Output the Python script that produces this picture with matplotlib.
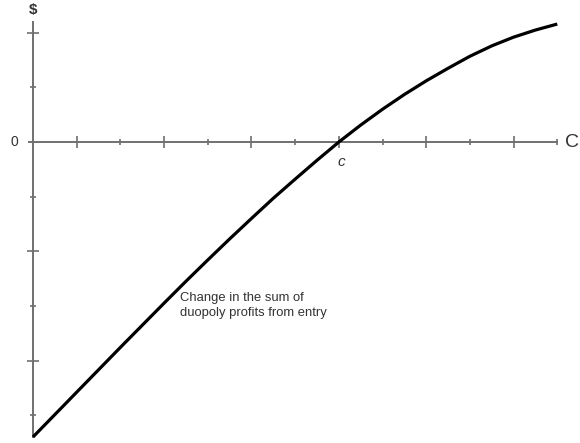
import matplotlib.pyplot as plt
import numpy as np
from matplotlib.ticker import FixedLocator, NullFormatter

plt.rcParams['font.family'] = ['Liberation Sans', 'DejaVu Sans']

# curve (x in tick units, y in tick units)
q = [0, 0.5, 1, 1.5, 2, 2.5, 3, 3.5, 4, 4.5, 5, 5.5, 6, 6.5, 7,
     7.5, 8, 8.5, 9, 9.5, 10, 10.5, 11, 11.5, 12]
profit_change = [-5.40, -4.99, -4.58, -4.17, -3.76, -3.355, -2.95, -2.55, -2.16, -1.775,
                 -1.40, -1.03, -0.68, -0.335, 0.0,
                 0.31, 0.60, 0.87, 1.12, 1.35, 1.57, 1.76, 1.92, 2.05, 2.16]

x_major = [1, 3, 5, 7, 9, 11]
x_minor = [2, 4, 6, 8, 10, 12]
y_major = [2, -2, -4]
y_minor = [1, -1, -3, -5]

axis_col = '#707070'

fig = plt.figure(figsize=(5.8, 4.43), dpi=100)
ax = fig.add_axes([0, 0, 1, 1])
ax.set_xlim(-0.755, 12.52)
ax.set_ylim(-5.51, 2.60)

ax.plot(q, profit_change, color='black', lw=2.3, solid_capstyle='butt',
        solid_joinstyle='round', zorder=3)

for s in ['top', 'right']:
    ax.spines[s].set_visible(False)
ax.spines['left'].set_position(('data', 0))
ax.spines['bottom'].set_position(('data', 0))
ax.spines['left'].set_bounds(-5.4, 2.2)
ax.spines['bottom'].set_bounds(-0.1, 12)
for s in ['left', 'bottom']:
    ax.spines[s].set_color(axis_col)
    ax.spines[s].set_linewidth(1.4)

ax.xaxis.set_major_locator(FixedLocator(x_major))
ax.xaxis.set_minor_locator(FixedLocator(x_minor))
ax.yaxis.set_major_locator(FixedLocator(y_major))
ax.yaxis.set_minor_locator(FixedLocator(y_minor))
ax.xaxis.set_major_formatter(NullFormatter())
ax.yaxis.set_major_formatter(NullFormatter())
ax.tick_params(which='major', direction='inout', length=8.5, width=1.2, color=axis_col)
ax.tick_params(which='minor', direction='inout', length=4.3, width=1.2, color=axis_col)

ax.text(0, 2.42, '$', ha='center', va='center', fontsize=11, fontweight='bold', color='#333333')
ax.text(-0.43, 0, '0', ha='center', va='center', fontsize=10, color='#333333')
ax.text(7.05, -0.37, 'c', ha='center', va='center', fontsize=11, style='italic', color='#333333')
ax.text(12.49, 0, 'C', ha='right', va='center', fontsize=14, color='#333333')
ax.text(3.36, -2.74, 'Change in the sum of\nduopoly profits from entry', ha='left', va='top',
        fontsize=9.4, color='#333333', linespacing=1.35)

plt.savefig('out.png', dpi=100)
